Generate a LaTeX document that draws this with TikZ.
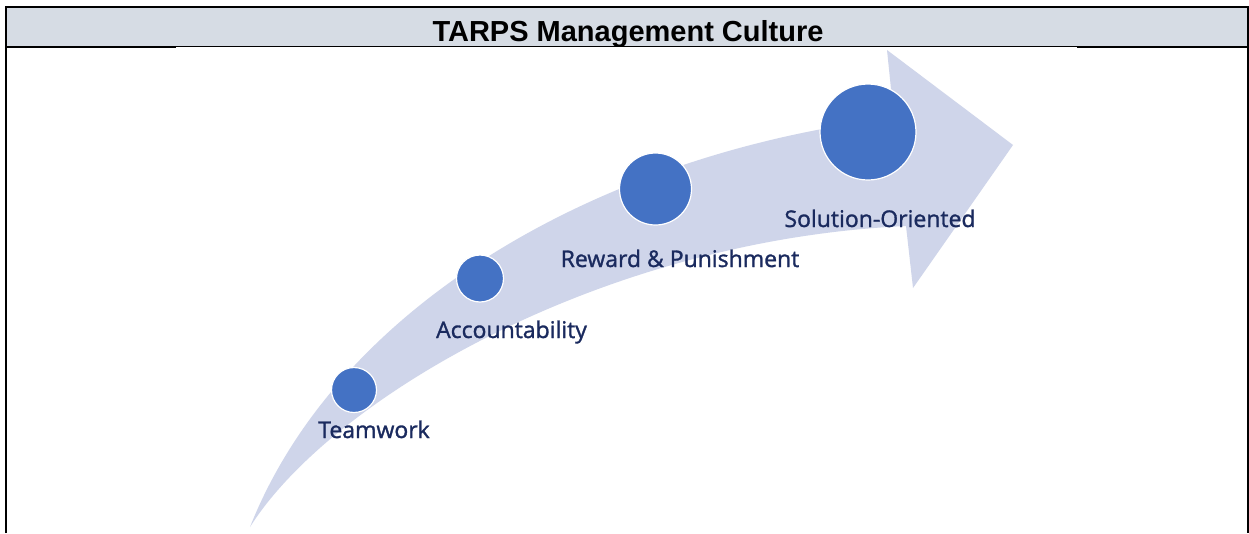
\documentclass[tikz,border=0pt]{standalone}
\usepackage{fontspec}
\setmainfont{Open Sans}
\newfontfamily\titlefont{Liberation Sans}
\newfontfamily\stagefont{Open Sans}[FakeBold=1.3]
\usetikzlibrary{positioning}
\definecolor{headgray}{RGB}{214,220,228}
\definecolor{bandblue}{RGB}{207,213,234}
\definecolor{dotblue}{RGB}{68,114,196}
\definecolor{navy}{RGB}{26,42,94}

\begin{document}
\begin{tikzpicture}[
  x=1pt, y=-1pt,
  dot/.style={circle, draw=white, line width=1.2pt, fill=dotblue, inner sep=0pt},
  stage/.style={text=navy, font=\stagefont\fontsize{23}{26}\selectfont, inner sep=0pt, anchor=base},
  frame/.style={line width=2pt}
]
  \useasboundingbox (0,0) rectangle (1249,533);
  % table header
  \fill[headgray] (6,7) rectangle (1248,46.5);
  \node[font=\titlefont\bfseries\fontsize{29}{32}\selectfont, inner sep=0pt, anchor=base] (title) at (628,41) {TARPS Management Culture};
  \draw[frame] (6,533) -- (6,7) -- (1248,7) -- (1248,533);
  \draw[frame] (6,46.5) -- (1248,46.5);
  % picture area
  \fill[white] (176,47.2) rectangle (1077,533);
  % curved arrow
  \fill[bandblue] (250,527) .. controls (340,300) and (608,152) .. (894,118)
    -- (887,50) -- (1013,145) -- (913,288) -- (906,226)
    .. controls (600,240) and (330,400) .. (250,527) -- cycle;

  \node[dot, minimum size=45pt] (team) at (354,390) {};
  \node[dot, minimum size=47pt] (acct) at (480,278.5) {};
  \node[dot, minimum size=72pt] (reward) at (655.5,189) {};
  \node[dot, minimum size=96pt] (solution) at (868,132) {};

  \node[stage] (team_label) at (374,438) {Teamwork};
  \node[stage] (acct_label) at (511.5,338) {Accountability};
  \node[stage] (reward_label) at (680,267) {Reward \& Punishment};
  \node[stage] (solution_label) at (880,227) {Solution-Oriented};
\end{tikzpicture}
\end{document}
